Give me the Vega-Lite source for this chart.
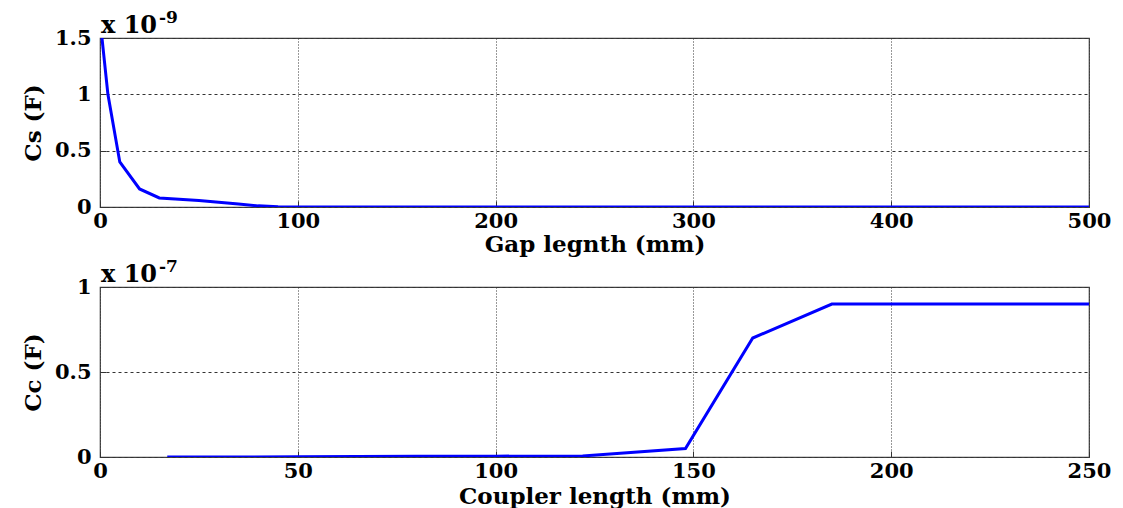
{
  "$schema": "https://vega.github.io/schema/vega-lite/v6.json",
  "background": "white",
  "padding": {"left": 21, "top": 8, "right": 10, "bottom": 2},
  "spacing": 0,
  "config": {
    "view": {"stroke": "#404040", "strokeWidth": 1.2},
    "font": "DejaVu Serif",
    "axis": {
      "labelFont": "DejaVu Serif",
      "labelFontWeight": "bold",
      "labelFontSize": 21,
      "labelColor": "black",
      "titleFont": "DejaVu Serif",
      "titleFontWeight": "bold",
      "titleFontSize": 23,
      "titleColor": "black",
      "domain": false,
      "grid": true,
      "gridColor": "#333333",
      "gridOpacity": 1,
      "gridWidth": 1,
      "tickColor": "#333333",
      "tickSize": -6,
      "labelOverlap": false,
      "labelFlush": false,
      "labelBound": false
    },
    "axisX": {"gridDash": [1, 2], "labelPadding": 9, "titlePadding": 2},
    "axisY": {"gridDash": [3, 3], "labelPadding": 15, "titlePadding": 9}
  },
  "vconcat": [
    {
      "width": 989,
      "height": 169,
      "layer": [
        {
          "data": {
            "values": [
              {"gap": 1, "cs": 1.5},
              {"gap": 4, "cs": 1.0},
              {"gap": 10, "cs": 0.4},
              {"gap": 20, "cs": 0.16},
              {"gap": 30, "cs": 0.08},
              {"gap": 40, "cs": 0.068},
              {"gap": 50, "cs": 0.058},
              {"gap": 60, "cs": 0.042},
              {"gap": 70, "cs": 0.026},
              {"gap": 80, "cs": 0.01},
              {"gap": 90, "cs": 0.002},
              {"gap": 100, "cs": 0},
              {"gap": 200, "cs": 0},
              {"gap": 300, "cs": 0},
              {"gap": 400, "cs": 0},
              {"gap": 500, "cs": 0}
            ]
          },
          "mark": {"type": "line", "color": "#0000FF", "strokeWidth": 3, "clip": true},
          "encoding": {
            "x": {
              "field": "gap",
              "type": "quantitative",
              "scale": {"domain": [0, 500], "nice": false},
              "axis": {"values": [0, 100, 200, 300, 400, 500], "title": "Gap legnth (mm)"}
            },
            "y": {
              "field": "cs",
              "type": "quantitative",
              "scale": {"domain": [0, 1.5], "nice": false},
              "axis": {"values": [0, 0.5, 1, 1.5], "format": "~g", "title": "Cs (F)"}
            }
          }
        },
        {
          "data": {"values": [{}]},
          "mark": {"type": "text", "text": "x 10", "align": "left", "baseline": "alphabetic", "dx": 1, "dy": -5, "font": "DejaVu Serif", "fontWeight": "bold", "fontSize": 24, "color": "black"},
          "encoding": {
            "x": {"datum": 0, "type": "quantitative"},
            "y": {"datum": 1.5, "type": "quantitative"}
          }
        },
        {
          "data": {"values": [{}]},
          "mark": {"type": "text", "text": "-9", "align": "left", "baseline": "alphabetic", "dx": 59, "dy": -15, "font": "DejaVu Serif", "fontWeight": "bold", "fontSize": 17, "color": "black"},
          "encoding": {
            "x": {"datum": 0, "type": "quantitative"},
            "y": {"datum": 1.5, "type": "quantitative"}
          }
        }
      ]
    },
    {
      "width": 989,
      "height": 170,
      "layer": [
        {
          "data": {
            "values": [
              {"length": 17, "cc": 0},
              {"length": 50, "cc": 0.001},
              {"length": 80, "cc": 0.004},
              {"length": 100, "cc": 0.005},
              {"length": 122, "cc": 0.006},
              {"length": 148, "cc": 0.05},
              {"length": 165, "cc": 0.7},
              {"length": 185, "cc": 0.9},
              {"length": 200, "cc": 0.9},
              {"length": 250, "cc": 0.9}
            ]
          },
          "mark": {"type": "line", "color": "#0000FF", "strokeWidth": 3, "clip": true},
          "encoding": {
            "x": {
              "field": "length",
              "type": "quantitative",
              "scale": {"domain": [0, 250], "nice": false},
              "axis": {"values": [0, 50, 100, 150, 200, 250], "title": "Coupler length (mm)", "titlePadding": 4}
            },
            "y": {
              "field": "cc",
              "type": "quantitative",
              "scale": {"domain": [0, 1], "nice": false},
              "axis": {"values": [0, 0.5, 1], "format": "~g", "title": "Cc (F)"}
            }
          }
        },
        {
          "data": {"values": [{}]},
          "mark": {"type": "text", "text": "x 10", "align": "left", "baseline": "alphabetic", "dx": 1, "dy": -5, "font": "DejaVu Serif", "fontWeight": "bold", "fontSize": 24, "color": "black"},
          "encoding": {
            "x": {"datum": 0, "type": "quantitative"},
            "y": {"datum": 1, "type": "quantitative"}
          }
        },
        {
          "data": {"values": [{}]},
          "mark": {"type": "text", "text": "-7", "align": "left", "baseline": "alphabetic", "dx": 59, "dy": -15, "font": "DejaVu Serif", "fontWeight": "bold", "fontSize": 17, "color": "black"},
          "encoding": {
            "x": {"datum": 0, "type": "quantitative"},
            "y": {"datum": 1, "type": "quantitative"}
          }
        }
      ]
    }
  ]
}
